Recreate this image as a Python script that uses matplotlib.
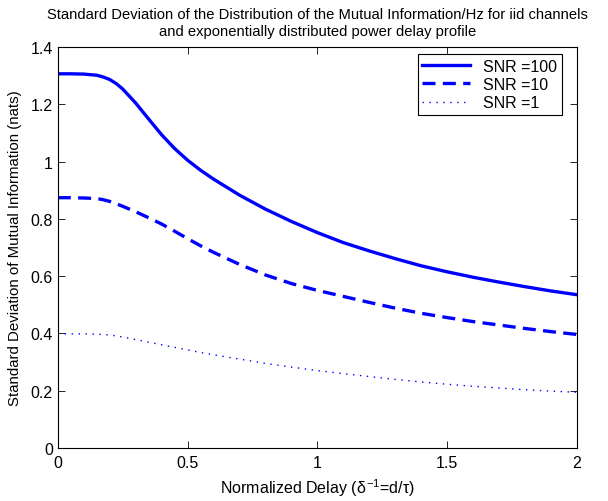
import matplotlib
matplotlib.use("Agg")
import matplotlib.pyplot as plt

plt.rcParams['font.family'] = ['Liberation Sans', 'DejaVu Sans']
plt.rcParams['mathtext.fontset'] = 'custom'
plt.rcParams['mathtext.rm'] = 'Liberation Sans'
plt.rcParams['mathtext.it'] = 'Liberation Sans'
plt.rcParams['font.size'] = 11.5

# normalized delay values
delay = [0.0, 0.05, 0.1, 0.15, 0.175, 0.2, 0.225, 0.25, 0.3, 0.35, 0.4, 0.45, 0.5, 0.55,
         0.6, 0.7, 0.8, 0.9, 1.0, 1.1, 1.2, 1.3, 1.4, 1.5, 1.6, 1.7, 1.8, 1.9, 2.0]

# std dev of mutual information (nats)
snr100 = [1.307, 1.307, 1.306, 1.302, 1.296, 1.287, 1.273, 1.254, 1.205, 1.149, 1.094, 1.046,
          1.005, 0.970, 0.939, 0.883, 0.834, 0.791, 0.752, 0.717, 0.688, 0.661, 0.636,
          0.615, 0.596, 0.579, 0.563, 0.548, 0.535]
snr10 = [0.874, 0.874, 0.873, 0.871, 0.867, 0.861, 0.853, 0.844, 0.825, 0.804, 0.782, 0.757,
         0.731, 0.706, 0.683, 0.641, 0.604, 0.574, 0.550, 0.529, 0.508, 0.488, 0.470,
         0.455, 0.441, 0.429, 0.417, 0.406, 0.396]
snr1 = [0.398, 0.398, 0.398, 0.397, 0.396, 0.394, 0.391, 0.387, 0.378, 0.369, 0.360, 0.351,
        0.342, 0.333, 0.325, 0.310, 0.295, 0.282, 0.270, 0.259, 0.249, 0.239, 0.230,
        0.222, 0.215, 0.209, 0.203, 0.198, 0.194]

fig = plt.figure(figsize=(6.08, 5.02), dpi=100)
ax = fig.add_axes([0.095, 0.106, 0.854, 0.798])

ax.plot(delay, snr100, '-', color='blue', linewidth=2.4, solid_joinstyle='round', label='SNR =100')
ax.plot(delay, snr10, '--', color='blue', linewidth=2.4, dashes=(3.9, 2.2), label='SNR =10')
ax.plot(delay, snr1, ':', color='blue', linewidth=1.0, dashes=(1, 4), label='SNR =1')

ax.set_xlim(0, 2)
ax.set_ylim(0, 1.4)
ax.set_xticks([0, 0.5, 1, 1.5, 2])
ax.set_xticklabels(['0', '0.5', '1', '1.5', '2'])
ax.set_yticks([0, 0.2, 0.4, 0.6, 0.8, 1.0, 1.2, 1.4])
ax.set_yticklabels(['0', '0.2', '0.4', '0.6', '0.8', '1', '1.2', '1.4'])
ax.tick_params(direction='in', top=True, right=True, length=5, width=0.6, labelsize=11.5)
ax.tick_params(axis='x', pad=5)
for s in ax.spines.values():
    s.set_linewidth(0.8)

ax.set_xlabel(r'Normalized Delay ($\delta^{-1}$=d/$\tau$)', fontsize=11.5, labelpad=5)
ax.set_ylabel('Standard Deviation of Mutual Information (nats)', fontsize=10.8, labelpad=6)
ax.set_title('Standard Deviation of the Distribution of the Mutual Information/Hz for iid channels\n'
             'and exponentially distributed power delay profile', fontsize=10.6, linespacing=1.2, pad=9)

leg = ax.legend(loc='upper right', bbox_to_anchor=(0.971, 0.983), borderaxespad=0,
                fancybox=False, edgecolor='black', framealpha=1, fontsize=11.5,
                handlelength=3.0, handletextpad=0.8, borderpad=0.3, labelspacing=0.2)
leg.get_frame().set_linewidth(0.8)

fig.savefig('out.png', dpi=100)
